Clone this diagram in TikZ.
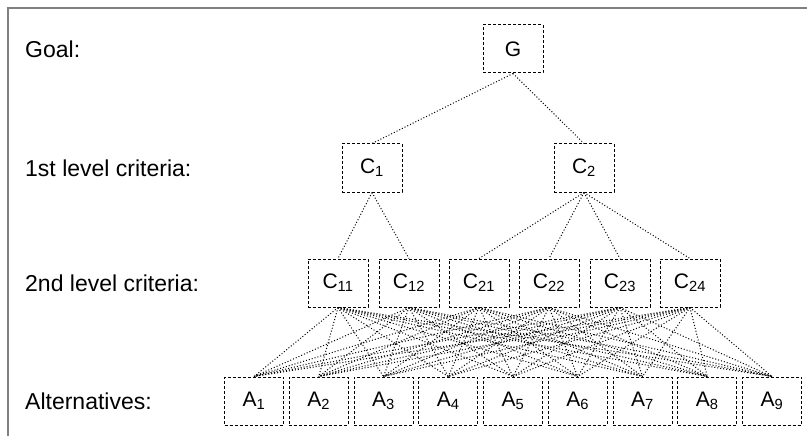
\documentclass[tikz,border=0pt]{standalone}
\usepackage{fontspec}
\setmainfont{Liberation Sans}
\begin{document}
\begin{tikzpicture}[x=1pt,y=-1pt,
  box/.style={draw=black, line width=1pt, dash pattern=on 3pt off 2pt, minimum width=60pt, minimum height=48pt, inner sep=0pt, font=\fontsize{21}{24}\selectfont},
  lbl/.style={anchor=west, inner sep=0pt, font=\fontsize{23}{26}\selectfont},
  link/.style={draw=black, line width=1pt, dotted},
  frame/.style={draw=gray, line width=1.2pt}]
\useasboundingbox (0,0) rectangle (807,436);
\coordinate (fbl) at (8,436);
\coordinate (ftl) at (8,8);
\coordinate (ftr) at (807,8);
\draw[frame] (fbl) -- (ftl) -- (ftr);

\node[lbl] (lg) at (25,49) {Goal:};
\node[lbl] (l1) at (25,168) {1st level criteria:};
\node[lbl] (l2) at (25,283) {2nd level criteria:};
\node[lbl] (la) at (25,401) {Alternatives:};

\node[box] (G) at (513,49) {G};
\node[box] (C1) at (372,168) {C\textsubscript{1}};
\node[box] (C2) at (584,168) {C\textsubscript{2}};

\node[box] (C11) at (338,283) {C\textsubscript{11}};
\node[box] (C12) at (409,283) {C\textsubscript{12}};
\node[box] (C21) at (479,283) {C\textsubscript{21}};
\node[box] (C22) at (549,283) {C\textsubscript{22}};
\node[box] (C23) at (620,283) {C\textsubscript{23}};
\node[box] (C24) at (690,283) {C\textsubscript{24}};

\foreach \i in {1,...,9} {
  \node[box, minimum width=59pt] (A\i) at ({254+64.75*(\i-1)},401) {A\textsubscript{\i}};
}

\draw[link] (G.south) -- (C1.north);
\draw[link] (G.south) -- (C2.north);
\draw[link] (C1.south) -- (C11.north);
\draw[link] (C1.south) -- (C12.north);
\foreach \c in {C21,C22,C23,C24} {
  \draw[link] (C2.south) -- (\c.north);
}
\foreach \c in {C11,C12,C21,C22,C23,C24} {
  \foreach \i in {1,...,9} {
    \draw[link] (\c.south) -- (A\i.north);
  }
}
\end{tikzpicture}
\end{document}
